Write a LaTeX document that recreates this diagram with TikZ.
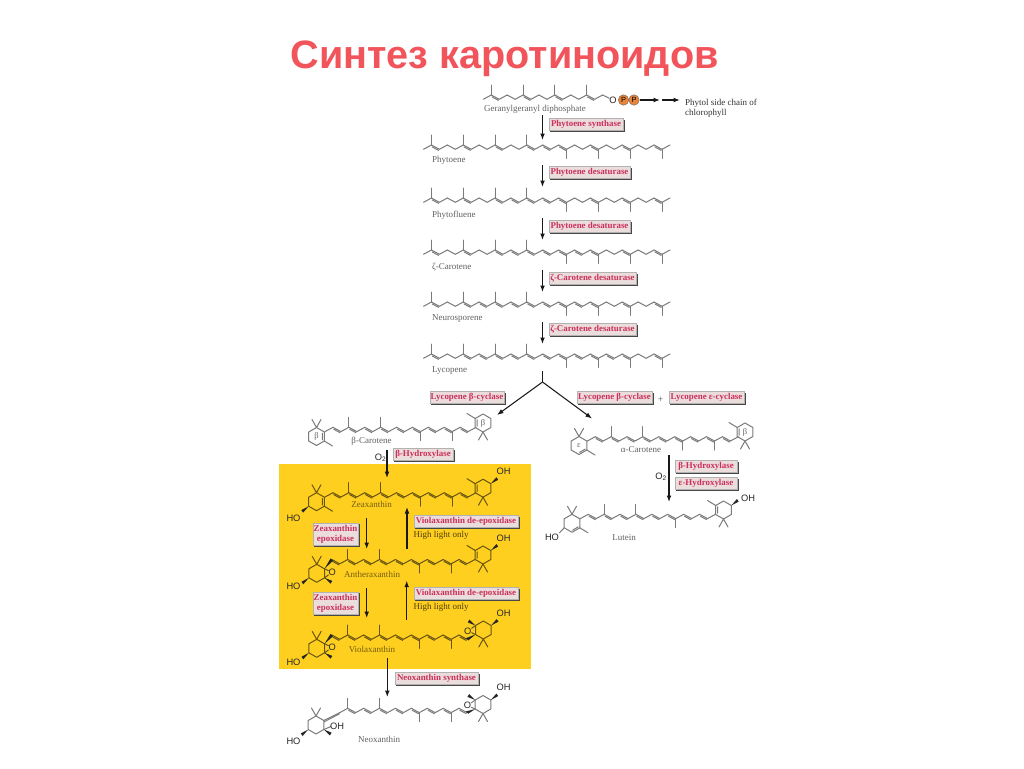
\documentclass[tikz,border=0pt]{standalone}
\usepackage{fontspec}
\setmainfont{Liberation Serif}
\newfontfamily\sansf{Liberation Sans}
\usetikzlibrary{arrows.meta,calc}
\pgfdeclarelayer{bg}
\pgfsetlayers{bg,main}
\definecolor{titlec}{HTML}{F2545B}
\definecolor{enzt}{HTML}{CC2F5A}
\definecolor{enzf}{HTML}{EBDDDC}
\definecolor{yel}{HTML}{FFCF20}
\definecolor{ppc}{HTML}{E8853A}
\colorlet{molc}{black!52}
\colorlet{namec}{black!62}
\tikzset{
 mol/.style={draw=molc,line width=1pt,line cap=round,line join=round},
 wedgeb/.style={fill=black!85},
 enz0/.style={rectangle,fill=enzf,draw=black!30,line width=0.3pt,text=enzt,inner xsep=1pt,inner ysep=1pt},
 enz/.style={enz0,font=\bfseries\fontsize{8.9}{9}\selectfont,minimum height=11.5pt,text height=6.5pt,text depth=1.5pt},
 enzb/.style={enz0,font=\bfseries\fontsize{8.9}{10}\selectfont,minimum height=22pt,align=center},
 molname/.style={text=namec,font=\fontsize{9}{10}\selectfont,inner sep=0pt,yshift=-1.5pt},
 atomt/.style={text=black!85,font=\sansf\fontsize{9.3}{10}\selectfont,inner sep=0pt},
 rlett/.style={text=black!60,font=\fontsize{8.5}{9}\selectfont,inner sep=0pt},
 arr/.style={-{Latex[length=6.5pt,width=4.8pt]},line width=1.05pt,draw=black!90},
 ppball/.style={circle,fill=ppc,draw=black!60,line width=0.4pt,minimum size=10.5pt,inner sep=0pt,font=\sansf\fontsize{7.5}{8}\selectfont},
}
% chain: x0, ytop, first index drawn, last index, doubles, methyl up, methyl down
\newcommand\chainmol[7]{%
 \foreach \i in {0,...,#4}{\pgfmathsetmacro\px{#1+\i*7.95}\pgfmathsetmacro\py{#2+(1-mod(\i,2))*4.3}\coordinate (c\i) at (\px,\py);}
 \foreach \i in {#3,...,#4}{\ifnum\i>#3\relax\pgfmathtruncatemacro\j{\i-1}\draw[mol] (c\j)--(c\i);\fi}
 \foreach \a in {#5}{\pgfmathtruncatemacro\b{\a+1}\draw[mol] ($(c\a)!0.1!(c\b)+(0,1.5)$)--($(c\a)!0.9!(c\b)+(0,1.5)$);}
 \foreach \m in {#6}{\draw[mol] (c\m)--++(0,-10);}
 \foreach \m in {#7}{\draw[mol] (c\m)--++(0,9);}
}
\newcommand\ringmol[4]{\begin{scope}[shift={(#1,#2)},rotate=#3]
 \draw[mol] (0,-9)--(7.8,-4.5)--(7.8,4.5)--(0,9)--(-7.8,4.5)--(-7.8,-4.5)--cycle;
 \draw[mol] (0,-9)--(-4.5,-17) (0,-9)--(4.5,-17);
 #4\end{scope}}
\newcommand\bdb{\draw[mol] (5.9,-3.2)--(5.9,3.2) (7.8,4.5)--(16,9.5);}
\newcommand\edb{\draw[mol] (6.2,3.6)--(0.6,6.9) (7.8,4.5)--(16,9.5);}
\newcommand\woh{\fill[wedgeb] (-7.8,4.5)--(-15.2,8.4)--(-13.4,11)--cycle;}
\newcommand\plainoh{\draw[mol] (-7.8,4.5)--(-12.5,9.5);}
\newcommand\epox[1]{\coordinate (#1) at (7.8,-4.5);
 \fill[wedgeb] (7.8,4.5)--(15.6,7.6)--(13.9,10.4)--cycle;
 \node[atomt] (#1o) at (15.5,-1) {O};
 \draw[mol] (7.8,-4.5)--(#1o) (7.8,4.5)--(#1o);}
\newcommand\chainwedge[2]{\fill[wedgeb] (#1)--($(#2)+(-1.3,-1.1)$)--($(#2)+(1.3,1.1)$)--cycle;}
\begin{document}
\begin{tikzpicture}[x=1pt,y=-1pt]
\useasboundingbox (0,0) rectangle (1024,768);
\begin{pgfonlayer}{bg}
\fill[white] (0,0) rectangle (1024,768);
\fill[yel] (279,464) rectangle (531,669);
\end{pgfonlayer}
\node[text=titlec,font=\sansf\bfseries\fontsize{39.6}{42}\selectfont,inner sep=0pt] (title) at (504.5,59) {Синтез каротиноидов};

% Geranylgeranyl diphosphate
\chainmol{483.3}{95}{0}{15}{1,5,9,13}{1,5,9,13}{}
\node[atomt] (ox) at (613,100) {O};
\node[ppball] (p1) at (623.5,100) {P};
\node[ppball] (p2) at (634,100) {P};
\draw[mol] (c15)--(ox);
\node[molname,anchor=west] (gg) at (484,108) {Geranylgeranyl diphosphate};
\coordinate (pa) at (640,100); \coordinate (pb) at (660,100);
\coordinate (pc) at (662,100); \coordinate (pd) at (680,100);
\draw[arr] (pa)--(pb); \draw[arr] (pc)--(pd);
\node[molname,anchor=north west,align=left,text=black!80] (phy) at (685,97) {Phytol side chain of\\chlorophyll};

% linear carotenes
\chainmol{423.5}{145}{0}{31}{1,5,9,13,15,17,21,25,29}{1,5,9,13}{18,22,26,30}
\node[molname,anchor=west] (n1) at (432,159) {Phytoene};
\chainmol{423.5}{198}{0}{31}{1,5,9,11,13,15,17,21,25,29}{1,5,9,13}{18,22,26,30}
\node[molname,anchor=west] (n2) at (432,214) {Phytofluene};
\chainmol{423.5}{250}{0}{31}{1,5,9,11,13,15,17,19,21,25,29}{1,5,9,13}{18,22,26,30}
\node[molname,anchor=west] (n3) at (432,266) {ζ-Carotene};
\chainmol{423.5}{302}{0}{31}{1,5,7,9,11,13,15,17,19,21,25,29}{1,5,9,13}{18,22,26,30}
\node[molname,anchor=west] (n4) at (432,317) {Neurosporene};
\chainmol{423.5}{354}{0}{31}{1,5,7,9,11,13,15,17,19,21,23,25,29}{1,5,9,13}{18,22,26,30}
\node[molname,anchor=west] (n5) at (432,369) {Lycopene};

% main arrows
\foreach \k/\a/\b in {1/115/140,2/165/187,3/218/240,4/270/292,5/322/344}{
 \coordinate (ms\k) at (542.5,\a); \coordinate (me\k) at (542.5,\b);
 \draw[arr] (ms\k)--(me\k);}
\node[enz,minimum width=74pt] (e1) at (586,124) {Phytoene synthase};
\node[enz,minimum width=81pt] (e2) at (589.5,172) {Phytoene desaturase};
\node[enz,minimum width=81pt] (e3) at (589.5,226) {Phytoene desaturase};
\node[enz,minimum width=87pt] (e4) at (592.5,278) {ζ-Carotene desaturase};
\node[enz,minimum width=87pt] (e5) at (592.5,329) {ζ-Carotene desaturase};

% branch
\coordinate (br0) at (542.5,371); \coordinate (br) at (542.5,382);
\coordinate (brl) at (497,415); \coordinate (brr) at (592,418.5);
\draw[line width=1.05pt,black!90] (br0)--(br);
\draw[arr] (br)--(brl); \draw[arr] (br)--(brr);
\node[enz,minimum width=74pt] (e6) at (467,397) {Lycopene β-cyclase};
\node[enz,minimum width=75pt] (e7) at (614.5,397) {Lycopene β-cyclase};
\node[molname,text=black!70,font=\fontsize{9.5}{10}\selectfont] (plus) at (660.5,398) {+};
\node[enz,minimum width=75pt] (e8) at (706.5,397) {Lycopene ε-cyclase};

% beta-carotene
\chainmol{325}{427.3}{0}{19}{1,3,5,7,9,11,13,15,17}{3,7}{12,16}
\ringmol{316.5}{436.5}{0}{\bdb\node[rlett] (rb1) at (0,0) {β};}
\ringmol{483}{423}{180}{\bdb\node[rlett] (rb2) at (0,0) {β};}
\node[molname] (n6) at (371.5,440) {β-Carotene};
\coordinate (hs) at (387,450); \coordinate (he) at (387,478);
\draw[arr] (hs)--(he);
\node[atomt] (o2a) at (380.5,458) {O\textsubscript{2}};
\node[enz,minimum width=60pt] (e9) at (423,454) {β-Hydroxylase};

% alpha-carotene
\chainmol{587.3}{436.7}{0}{19}{1,3,5,7,9,11,13,15,17}{3,7}{12,16}
\ringmol{579}{445.5}{0}{\edb\node[rlett] (re1) at (0,0) {ε};}
\ringmol{745}{432}{180}{\bdb\node[rlett] (rb3) at (0,0) {β};}
\node[molname] (n7) at (641,448) {α-Carotene};
\coordinate (hs2) at (669,455); \coordinate (he2) at (669,502);
\draw[arr] (hs2)--(he2);
\node[atomt] (o2b) at (661,477) {O\textsubscript{2}};
\node[enz,minimum width=62pt] (e10) at (706,466) {β-Hydroxylase};
\node[enz,minimum width=62pt] (e11) at (706,483) {ε-Hydroxylase};

% lutein
\chainmol{580.3}{514.3}{0}{17}{1,3,5,7,9,11,13,15}{3,7}{12}
\ringmol{572}{523.3}{0}{\edb\plainoh}
\ringmol{723.5}{510}{180}{\bdb\woh}
\node[atomt] (l1) at (552,537) {HO};
\node[atomt] (l2) at (748,498) {OH};
\node[molname] (n8) at (624,536.5) {Lutein};

% yellow region
\begin{scope}
\colorlet{molc}{black!55!yel!90!black}
\colorlet{namec}{black!55!yel}
% zeaxanthin
\chainmol{325}{492.7}{0}{19}{1,3,5,7,9,11,13,15,17}{3,7}{12,16}
\ringmol{316.5}{501.7}{0}{\bdb\woh}
\ringmol{483}{488.2}{180}{\bdb\woh}
\node[atomt] (z1) at (293.5,518.3) {HO};
\node[atomt] (z2) at (503.5,471.5) {OH};
\node[molname] (n9) at (371.5,503) {Zeaxanthin};
% antheraxanthin
\chainmol{323.9}{559.5}{1}{19}{1,3,5,7,9,11,13,15,17}{3,7}{12,16}
\ringmol{316.7}{573.3}{0}{\epox{ea}\woh}
\chainwedge{ea}{c1}
\ringmol{483}{555}{180}{\bdb\woh}
\node[atomt] (a1) at (293.5,586.5) {HO};
\node[atomt] (a2) at (503.5,538) {OH};
\node[molname] (n10) at (372,573) {Antheraxanthin};
% violaxanthin
\chainmol{323.9}{635}{1}{18}{1,3,5,7,9,11,13,15,17}{3,7}{12,16}
\ringmol{316.7}{648.3}{0}{\epox{eb}\woh}
\chainwedge{eb}{c1}
\ringmol{483.3}{630}{180}{\epox{ec}\woh}
\chainwedge{ec}{c18}
\node[atomt] (v1) at (293.5,662) {HO};
\node[atomt] (v2) at (503.5,613.5) {OH};
\node[molname] (n11) at (372,648) {Violaxanthin};
\end{scope}

% yellow arrows
\coordinate (d1s) at (366.7,518); \coordinate (d1e) at (366.7,549);
\coordinate (u1s) at (407,549); \coordinate (u1e) at (407,507);
\coordinate (d2s) at (366.7,588); \coordinate (d2e) at (366.7,618);
\coordinate (u2s) at (406.7,620); \coordinate (u2e) at (406.7,580.7);
\draw[arr] (d1s)--(d1e); \draw[arr] (u1s)--(u1e);
\draw[arr] (d2s)--(d2e); \draw[arr] (u2s)--(u2e);
\node[enzb,minimum width=45pt] (e12) at (335.5,534) {Zeaxanthin\\epoxidase};
\node[enzb,minimum width=45pt] (e13) at (335.5,603) {Zeaxanthin\\epoxidase};
\node[enz,minimum width=104pt] (e14) at (466,521) {Violaxanthin de-epoxidase};
\node[enz,minimum width=104pt] (e15) at (466,593) {Violaxanthin de-epoxidase};
\node[molname,anchor=west,text=black!70!yel] (hl1) at (413.5,534) {High light only};
\node[molname,anchor=west,text=black!70!yel] (hl2) at (413.5,606) {High light only};

% neoxanthin
\coordinate (ns) at (387.3,658); \coordinate (ne) at (387.3,697);
\draw[arr] (ns)--(ne);
\node[enz,minimum width=83pt] (e16) at (436.5,678) {Neoxanthin synthase};
\chainmol{323.9}{708.3}{2}{18}{3,5,7,9,11,13,15,17}{3,7}{12,16}
\ringmol{316}{725}{0}{\draw[mol] (7.8,4.5)--(15,1.5);\fill[wedgeb] (7.8,4.5)--(15.6,7.6)--(13.9,10.4)--cycle;\woh\coordinate (al) at (7.8,-4.5);\node[atomt] (nh) at (21,1) {OH};}
\draw[mol] (al)--(c2);
\draw[mol] ($(al)+(0.5,1.2)$)--($(c2)+(-0.3,1.2)$);
\ringmol{483}{704.5}{180}{\epox{ed}\woh}
\chainwedge{ed}{c18}
\node[atomt] (x1) at (293.5,741) {HO};
\node[atomt] (x2) at (503.5,687) {OH};
\node[molname] (n12) at (379,737.5) {Neoxanthin};

% label shadows
\begin{pgfonlayer}{bg}
\foreach \k in {1,...,16}{
 \fill[black!72] ($(e\k.north west)+(1.6,1.6)$) rectangle ($(e\k.south east)+(1.6,1.6)$);}
\end{pgfonlayer}
\end{tikzpicture}
\end{document}
